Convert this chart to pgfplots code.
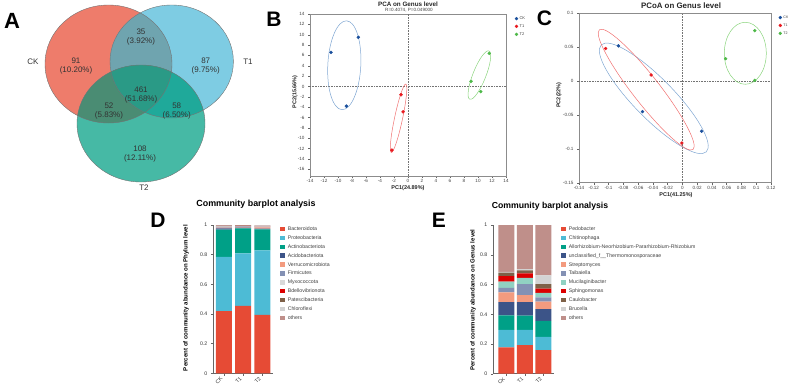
\documentclass[border=0pt]{standalone}
\usepackage{pgfplots}
\pgfplotsset{compat=1.18}
\usepackage{pgfplotstable}
\usepackage{fontspec}
\setmainfont{Liberation Sans}

% Venn region colours
\definecolor{vCK}{HTML}{EE7C6B}
\definecolor{vT1}{HTML}{7ECCE3}
\definecolor{vT2}{HTML}{46B9A5}
\definecolor{vCKT1}{HTML}{6FA4AF}
\definecolor{vCKT2}{HTML}{4A8C73}
\definecolor{vT1T2}{HTML}{1FA99A}
\definecolor{vAll}{HTML}{2A9A86}
% group colours (points and ellipses)
\definecolor{gCK}{HTML}{1A4F9C}
\definecolor{gT1}{HTML}{E8191F}
\definecolor{gT2}{HTML}{4DB848}
\definecolor{eCK}{HTML}{7FA6D2}
\definecolor{eT1}{HTML}{F07070}
\definecolor{eT2}{HTML}{8AD47C}
% taxa palette
\definecolor{c1}{HTML}{E64B35}
\definecolor{c2}{HTML}{4DBBD5}
\definecolor{c3}{HTML}{00A087}
\definecolor{c4}{HTML}{3C5488}
\definecolor{c5}{HTML}{F39B7F}
\definecolor{c6}{HTML}{8491B4}
\definecolor{c7p}{HTML}{D9D9D9}
\definecolor{c7g}{HTML}{91D1C2}
\definecolor{c8}{HTML}{DC0000}
\definecolor{c9}{HTML}{7E6148}
\definecolor{c10}{HTML}{D3D3D3}
\definecolor{c11}{HTML}{BF8F8A}

% relative abundance, phylum level
\pgfplotstableread{
x Bact Prot Acti Acid Verr Firm Myxo Bdel Pate Chlo oth
0 0.420 0.365 0.183 0.010 0.005 0.004 0.003 0.001 0.001 0.002 0.006
1 0.455 0.354 0.168 0.006 0.004 0.004 0.002 0.001 0.001 0.001 0.004
2 0.394 0.435 0.142 0.005 0.008 0.003 0.003 0.002 0.001 0.002 0.005
}\phylum

% relative abundance, genus level
\pgfplotstableread{
x Pedo Chit Allo Ther Stre Taib Muci Sphi Caul Bruc oth
0 0.177 0.117 0.098 0.090 0.065 0.031 0.041 0.038 0.022 0.005 0.316
1 0.193 0.101 0.096 0.092 0.047 0.074 0.041 0.031 0.020 0.009 0.296
2 0.159 0.088 0.109 0.079 0.049 0.029 0.030 0.029 0.031 0.058 0.339
}\genus

\pgfplotsset{
  /pgf/number format/assume math mode=true,
  sqleg/.style={legend image code/.code={\fill[##1,draw=none] (0pt,-2.1pt) rectangle (5.5pt,2.3pt);}},
  dotleg/.style={legend image code/.code={\draw[##1] plot coordinates {(0pt,0pt)};}},
  pts/.style={draw=none, mark=*, mark size=1.5pt, mark options={draw=#1, fill=#1}},
  refl/.style={forget plot, draw=black!55, line width=0.4pt, dash pattern=on 0.7pt off 0.9pt},
  ordin/.style={
    scale only axis, anchor=north west, clip=false, scaled ticks=false,
    axis line style={draw=black!45, line width=0.5pt},
    tick style={black!60, line width=0.4pt}, tick align=outside, major tick length=2pt,
    xtick pos=left, ytick pos=left,
    tick label style={font=\fontsize{4.6}{5}\selectfont, text=black!75},
    xticklabel style={inner sep=1pt},
    dotleg,
    legend cell align=left,
    legend style={at={(rel axis cs:1,1)}, anchor=north west, draw=none, fill=none,
      font=\fontsize{4}{4.5}\selectfont, text=black!75, row sep=4.2pt,
      nodes={inner sep=0pt, text height=2.9pt, text depth=0.8pt},
      /tikz/every odd column/.append style={column sep=1.6pt}},
  },
  barax/.style={
    scale only axis, anchor=north west, ybar stacked, bar width=16pt,
    ymin=0, ymax=1, xtick={0,1,2}, xticklabels={CK,T1,T2},
    ytick={0,0.2,0.4,0.6,0.8,1}, yticklabels={0,0.2,0.4,0.6,0.8,1},
    axis x line*=bottom, axis y line*=left,
    axis line style={draw=black!60, line width=0.5pt},
    tick style={black!60, line width=0.4pt}, tick align=outside, major tick length=2.2pt,
    tick label style={font=\fontsize{5.2}{6}\selectfont, text=black!80},
    xticklabel style={rotate=45, anchor=east},
    every axis plot post/.append style={draw=none, sqleg},
    legend cell align=left,
    legend style={at={(rel axis cs:1,1)}, anchor=north west, xshift=3.7pt, yshift=0.6pt,
      draw=none, fill=none, font=\fontsize{5.2}{6}\selectfont, text=black!75, row sep=4pt,
      nodes={inner sep=0pt, text height=3.8pt, text depth=1.1pt},
      /tikz/every odd column/.append style={column sep=2.4pt}},
  },
}

\begin{document}
\begin{tikzpicture}
\path[use as bounding box] (0,0) rectangle (788pt,384pt);

% ---------- A: Venn diagram ----------
\begin{axis}[at={(0pt,384pt)}, anchor=north west, scale only axis,
  width=260pt, height=192pt, xmin=0, xmax=260, ymin=0, ymax=192,
  y dir=reverse, hide axis, clip=false]
\fill[vCK] (axis cs:108.5,64) ellipse [x radius=63.5pt, y radius=59pt];
\fill[vT1] (axis cs:171.7,61.5) ellipse [x radius=61.7pt, y radius=56.5pt];
\fill[vT2] (axis cs:141,123.5) ellipse [x radius=64pt, y radius=58.5pt];
\begin{scope}
  \clip (axis cs:108.5,64) ellipse [x radius=63.5pt, y radius=59pt];
  \fill[vCKT1] (axis cs:171.7,61.5) ellipse [x radius=61.7pt, y radius=56.5pt];
  \fill[vCKT2] (axis cs:141,123.5) ellipse [x radius=64pt, y radius=58.5pt];
\end{scope}
\begin{scope}
  \clip (axis cs:171.7,61.5) ellipse [x radius=61.7pt, y radius=56.5pt];
  \fill[vT1T2] (axis cs:141,123.5) ellipse [x radius=64pt, y radius=58.5pt];
\end{scope}
\begin{scope}
  \clip (axis cs:108.5,64) ellipse [x radius=63.5pt, y radius=59pt];
  \clip (axis cs:171.7,61.5) ellipse [x radius=61.7pt, y radius=56.5pt];
  \fill[vAll] (axis cs:141,123.5) ellipse [x radius=64pt, y radius=58.5pt];
\end{scope}
\draw[black!55, line width=0.4pt] (axis cs:108.5,64) ellipse [x radius=63.5pt, y radius=59pt];
\draw[black!55, line width=0.4pt] (axis cs:171.7,61.5) ellipse [x radius=61.7pt, y radius=56.5pt];
\draw[black!55, line width=0.4pt] (axis cs:141,123.5) ellipse [x radius=64pt, y radius=58.5pt];
\end{axis}

% ---------- B: PCA ----------
\begin{axis}[ordin, at={(310pt,370pt)}, width=196pt, height=162pt,
  xmin=-14, xmax=14, ymin=-17.3, ymax=14,
  xtick={-14,-12,...,14}, ytick={-16,-14,...,14},
  legend style={xshift=5.8pt, yshift=-0.5pt}]
\addplot[refl] coordinates {(0,-17.3) (0,14)};
\addplot[refl] coordinates {(-14,0) (14,0)};
\draw[eCK, line width=0.5pt] (axis cs:-9.1,4.1) ellipse [x radius=16.5pt, y radius=44.5pt, rotate=-3];
\draw[eT1, line width=0.5pt] (axis cs:-1.35,-6.15) ellipse [x radius=4pt, y radius=35pt, rotate=-12];
\draw[eT2, line width=0.5pt] (axis cs:10.2,2.2) ellipse [x radius=6.5pt, y radius=26pt, rotate=-21.6];
\addplot[pts=gCK] coordinates {(-11,6.6) (-7.1,9.5) (-8.8,-3.8)};
\addlegendentry{CK}
\addplot[pts=gT1] coordinates {(-1,-1.6) (-0.7,-4.9) (-2.3,-12.3)};
\addlegendentry{T1}
\addplot[pts=gT2] coordinates {(9,1) (11.6,6.4) (10.4,-1)};
\addlegendentry{T2}
\end{axis}

% ---------- C: PCoA ----------
\begin{axis}[ordin, at={(579pt,370.7pt)}, width=192pt, height=169.4pt,
  xmin=-0.14, xmax=0.12, ymin=-0.15, ymax=0.1,
  xtick={-0.14,-0.12,-0.1,-0.08,-0.06,-0.04,-0.02,0,0.02,0.04,0.06,0.08,0.1,0.12},
  xticklabels={-0.14,-0.12,-0.1,-0.08,-0.06,-0.04,-0.02,0,0.02,0.04,0.06,0.08,0.1,0.12},
  ytick={-0.15,-0.1,-0.05,0,0.05,0.1},
  yticklabels={-0.15,-0.1,-0.05,0,0.05,0.1},
  legend style={xshift=4.6pt, yshift=-0.2pt, font=\fontsize{3.6}{4}\selectfont}]
\addplot[refl] coordinates {(0,-0.15) (0,0.1)};
\addplot[refl] coordinates {(-0.14,0) (0.12,0)};
\draw[eCK, line width=0.5pt] (axis cs:-0.0387,-0.0255) ellipse [x radius=75pt, y radius=20pt, rotate=-45.5];
\draw[eT1, line width=0.5pt] (axis cs:-0.049,-0.0127) ellipse [x radius=76pt, y radius=13.5pt, rotate=-52];
\draw[eT2, line width=0.5pt] (axis cs:0.0852,0.041) ellipse [x radius=21pt, y radius=31pt];
\addplot[pts=gCK] coordinates {(-0.0866,0.052) (-0.054,-0.045) (0.026,-0.074)};
\addlegendentry{CK}
\addplot[pts=gT1] coordinates {(-0.104,0.048) (-0.0423,0.0089) (-0.0007,-0.0915)};
\addlegendentry{T1}
\addplot[pts=gT2] coordinates {(0.098,0.0744) (0.0585,0.033) (0.098,0.001)};
\addlegendentry{T2}
\end{axis}

% ---------- D: phylum barplot ----------
\begin{axis}[barax, at={(213pt,159pt)}, width=60pt, height=148.3pt,
  xmin=-0.57, xmax=2.55]
\addplot[fill=c1]  table[x=x, y=Bact] {\phylum}; \addlegendentry{Bacteroidota}
\addplot[fill=c2]  table[x=x, y=Prot] {\phylum}; \addlegendentry{Proteobacteria}
\addplot[fill=c3]  table[x=x, y=Acti] {\phylum}; \addlegendentry{Actinobacteriota}
\addplot[fill=c4]  table[x=x, y=Acid] {\phylum}; \addlegendentry{Acidobacteriota}
\addplot[fill=c5]  table[x=x, y=Verr] {\phylum}; \addlegendentry{Verrucomicrobiota}
\addplot[fill=c6]  table[x=x, y=Firm] {\phylum}; \addlegendentry{Firmicutes}
\addplot[fill=c7p] table[x=x, y=Myxo] {\phylum}; \addlegendentry{Myxococcota}
\addplot[fill=c8]  table[x=x, y=Bdel] {\phylum}; \addlegendentry{Bdellovibrionota}
\addplot[fill=c9]  table[x=x, y=Pate] {\phylum}; \addlegendentry{Patescibacteria}
\addplot[fill=c10] table[x=x, y=Chlo] {\phylum}; \addlegendentry{Chloroflexi}
\addplot[fill=c11] table[x=x, y=oth]  {\phylum}; \addlegendentry{others}
\end{axis}

% ---------- E: genus barplot ----------
\begin{axis}[barax, at={(493pt,159pt)}, width=61pt, height=148.7pt,
  xmin=-0.73, xmax=2.57]
\addplot[fill=c1]  table[x=x, y=Pedo] {\genus}; \addlegendentry{Pedobacter}
\addplot[fill=c2]  table[x=x, y=Chit] {\genus}; \addlegendentry{Chitinophaga}
\addplot[fill=c3]  table[x=x, y=Allo] {\genus}; \addlegendentry{Allorhizobium-Neorhizobium-Pararhizobium-Rhizobium}
\addplot[fill=c4]  table[x=x, y=Ther] {\genus}; \addlegendentry{unclassified\_f\_\_Thermomonosporaceae}
\addplot[fill=c5]  table[x=x, y=Stre] {\genus}; \addlegendentry{Streptomyces}
\addplot[fill=c6]  table[x=x, y=Taib] {\genus}; \addlegendentry{Taibaiella}
\addplot[fill=c7g] table[x=x, y=Muci] {\genus}; \addlegendentry{Mucilaginibacter}
\addplot[fill=c8]  table[x=x, y=Sphi] {\genus}; \addlegendentry{Sphingomonas}
\addplot[fill=c9]  table[x=x, y=Caul] {\genus}; \addlegendentry{Caulobacter}
\addplot[fill=c10] table[x=x, y=Bruc] {\genus}; \addlegendentry{Brucella}
\addplot[fill=c11] table[x=x, y=oth]  {\genus}; \addlegendentry{others}
\end{axis}

% ---------- texts (coordinates in pixels from the top left) ----------
\begin{scope}[x=1pt, y=-1pt, yshift=384pt]
  % panel letters
  \node[font=\fontsize{22}{22}\selectfont\bfseries] at (12,21) {A};
  \node[font=\fontsize{21}{21}\selectfont\bfseries] at (274,19.5) {B};
  \node[font=\fontsize{21}{21}\selectfont\bfseries] at (544.5,18) {C};
  \node[font=\fontsize{21}{21}\selectfont\bfseries] at (158,220) {D};
  \node[font=\fontsize{21}{21}\selectfont\bfseries] at (439,220) {E};
  % Venn labels
  \begin{scope}[every node/.style={font=\fontsize{8}{9}\selectfont, text=black!80, align=center}]
    \node at (33,62) {CK};
    \node at (248,62) {T1};
    \node at (144,188) {T2};
    \node at (76,66) {91\\(10.20\%)};
    \node at (141,37) {35\\(3.92\%)};
    \node at (205.7,66) {87\\(9.75\%)};
    \node at (141,95) {461\\(51.68\%)};
    \node at (109,111) {52\\(5.83\%)};
    \node at (176.7,111) {58\\(6.50\%)};
    \node at (140,154) {108\\(12.11\%)};
  \end{scope}
  % ordination titles and axis labels
  \node[font=\fontsize{6.3}{7}\selectfont\bfseries, text=black!85] at (408,4) {PCA on Genus level};
  \node[font=\fontsize{4.6}{5}\selectfont, text=black!75] at (409,10.3) {R=0.4074, P=0.049000};
  \node[font=\fontsize{5.5}{6}\selectfont\bfseries, text=black!85] at (408,188.5) {PC1(24.89\%)};
  \node[font=\fontsize{5.5}{6}\selectfont\bfseries, text=black!85, rotate=90] at (295,92) {PC2(15.66\%)};
  \node[font=\fontsize{7.9}{8}\selectfont\bfseries, text=black!85] at (681,5.5) {PCoA on Genus level};
  \node[font=\fontsize{5.5}{6}\selectfont\bfseries, text=black!85] at (676,195) {PC1(41.25\%)};
  \node[font=\fontsize{5.5}{6}\selectfont\bfseries, text=black!85, rotate=90] at (559,95) {PC2(22\%)};
  % barplot titles and axis labels
  \node[font=\fontsize{8.9}{9}\selectfont\bfseries] at (256,204.3) {Community barplot analysis};
  \node[font=\fontsize{8.7}{9}\selectfont\bfseries] at (550,206.7) {Community barplot analysis};
  \node[font=\fontsize{6.1}{7}\selectfont\bfseries, rotate=90] at (186,298) {Percent of community abundance on Phylum level};
  \node[font=\fontsize{6.0}{7}\selectfont\bfseries, rotate=90] at (473,300) {Percent of community abundance on Genus level};
\end{scope}
\end{tikzpicture}
\end{document}
